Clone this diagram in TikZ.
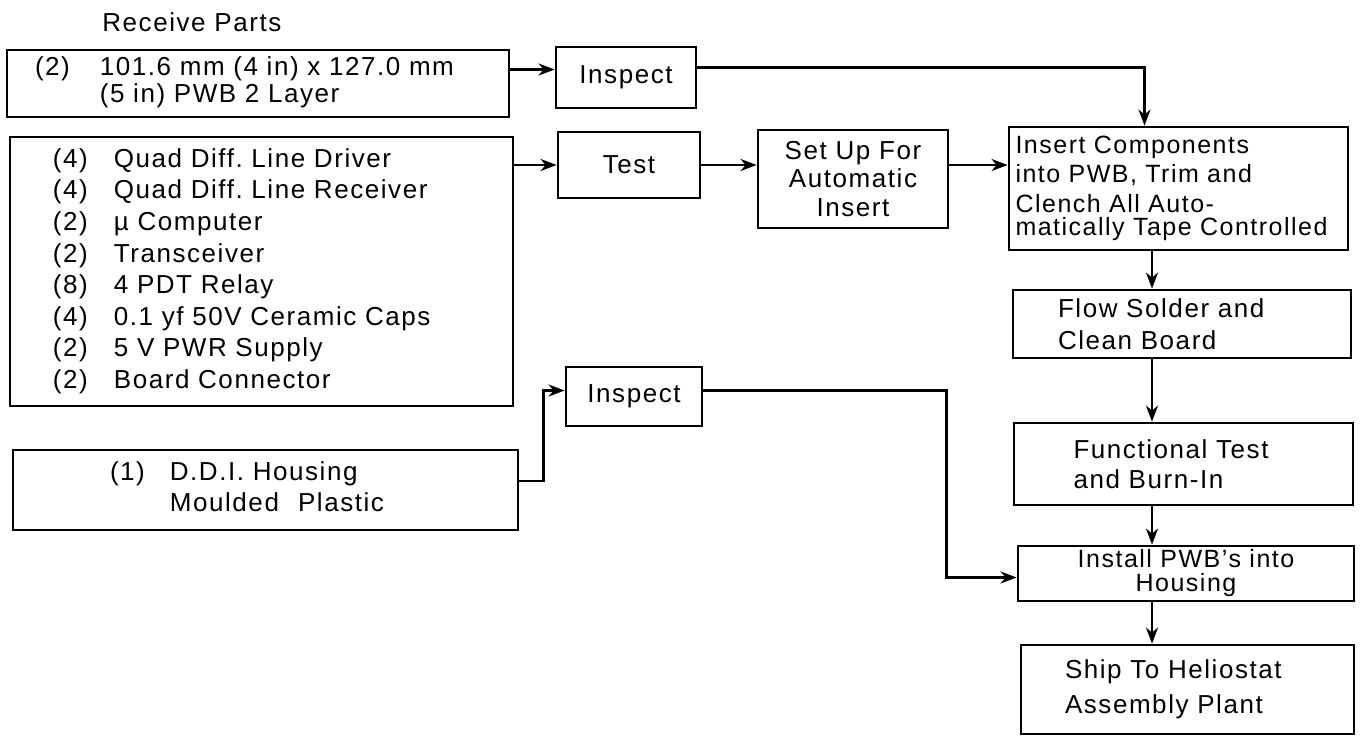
\documentclass[tikz,border=0pt]{standalone}
\usepackage{fontspec}
\setmainfont{Liberation Sans}[LetterSpace=6.0]
\usetikzlibrary{arrows.meta}

\newcommand{\fs}[2][13]{\fontsize{#1}{#2}\selectfont}

\begin{document}
\begin{tikzpicture}[
  x=0.5pt, y=-0.5pt,
  box/.style={draw,line width=1.4pt,inner sep=0pt,font=\fs{15}},
  txt/.style={inner sep=0pt,font=\fs{15}},
  arr/.style={line width=1.3pt,-{Stealth[length=8pt,width=6pt,inset=2.5pt]}}
]
  \useasboundingbox (0,0) rectangle (1360,736);
  \node[txt,anchor=west] (recv) at (102,22) {Receive Parts};
  \node[box,minimum width=251pt,minimum height=33.5pt,text width=223pt,align=left,font=\fs{13}] (pwb) at (258,83.5)
    {\begin{tabular}{@{}l@{\hspace{15pt}}l@{}}(2) & 101.6 mm (4 in) x 127.0 mm\\ & (5 in) PWB 2 Layer\end{tabular}};
  \node[box,minimum width=251.5pt,minimum height=134.5pt,text width=208.5pt,align=left,font=\fs{15.8}] (parts) at (261.5,271.5)
    {\begin{tabular}{@{}l@{\hspace{13pt}}l@{}}
      (4) & Quad Diff.\ Line Driver\\
      (4) & Quad Diff.\ Line Receiver\\
      (2) & µ Computer\\
      (2) & Transceiver\\
      (8) & 4 PDT Relay\\
      (4) & 0.1 yf 50V Ceramic Caps\\
      (2) & 5 V PWR Supply\\
      (2) & Board Connector
    \end{tabular}};
  \node[box,minimum width=252.5pt,minimum height=40pt,text width=155.5pt,align=left,font=\fs{15.5}] (ddi) at (265.5,490)
    {\begin{tabular}{@{}l@{\hspace{12.5pt}}l@{}}(1) & D.D.I. Housing\\ & Moulded\hspace{0.4em} Plastic\end{tabular}};
  \node[box,minimum width=70pt,minimum height=30.5pt] (inspA) at (626,77.5) {Inspect};
  \node[box,minimum width=71pt,minimum height=33pt] (test) at (629,165) {Test};
  \node[box,minimum width=68pt,minimum height=29.5pt] (inspB) at (634,396.5) {Inspect};
  \node[box,minimum width=95pt,minimum height=49pt,align=center,font=\fs{14.25}] (setup) at (853,179)
    {Set Up For\\Automatic\\Insert};
  \node[box,minimum width=169.5pt,minimum height=61.5pt,text width=163pt,align=left,font={\fs[12.5]{14.75}}] (insert) at (1178.5,188.5)
    {Insert Components\\into PWB, Trim and\\Clench All Auto-\\[-3pt]matically Tape Controlled};
  \node[box,minimum width=169pt,minimum height=34pt,text width=124pt,align=left,font=\fs{16}] (flow) at (1182,324)
    {Flow Solder and\\Clean Board};
  \node[box,minimum width=169.5pt,minimum height=41pt,text width=110pt,align=left] (func) at (1183.5,464)
    {Functional Test\\and Burn-In};
  \node[box,minimum width=168pt,minimum height=27.5pt,align=center,font={\fs[12.5]{12}}] (install) at (1186,573.5)
    {Install PWB's into\\Housing};
  \node[box,minimum width=166.5pt,minimum height=44.5pt,text width=122.5pt,align=left,font=\fs{17.5}] (ship) at (1187.5,689.5)
    {Ship To Heliostat\\Assembly Plant};
  \coordinate (a1) at ([yshift=4pt]inspA.west);
  \coordinate (spine) at (1152,0);
  \draw[arr] (pwb.east |- a1) -- (a1);
  \draw[arr] ([yshift=5pt]inspA.east) -| ([xshift=-17pt]insert.north);
  \draw[arr] (parts.east |- test.west) -- (test.west);
  \draw[arr] (test.east) -- (test.east -| setup.west);
  \draw[arr] (setup.east |- test.east) -- (insert.west |- test.east);
  \draw[arr] (spine |- insert.south) -- (spine |- flow.north);
  \draw[arr] (spine |- flow.south) -- (spine |- func.north);
  \draw[arr] (spine |- func.south) -- (spine |- install.north);
  \draw[arr] (spine |- install.south) -- (spine |- ship.north);
  \draw[arr] ([yshift=4.5pt]ddi.east) -- ++(12pt,0) |- ([yshift=3pt]inspB.west);
  \draw[arr] ([yshift=3pt]inspB.east) -- ++(121.5pt,0) |- ([yshift=-2pt]install.west);
\end{tikzpicture}
\end{document}
